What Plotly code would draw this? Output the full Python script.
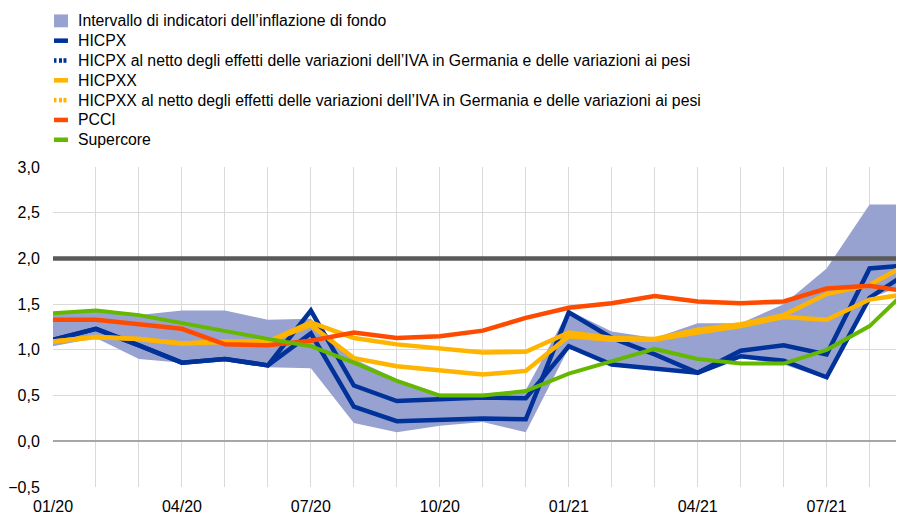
import plotly.graph_objects as go

# ---------------- DATA ----------------
months = ["01/20", "02/20", "03/20", "04/20", "05/20", "06/20", "07/20", "08/20", "09/20",
          "10/20", "11/20", "12/20", "01/21", "02/21", "03/21", "04/21", "05/21", "06/21",
          "07/21", "08/21", "09/21"]
tick_labels = ["01/20", "04/20", "07/20", "10/20", "01/21", "04/21", "07/21"]

band_upper = [1.40, 1.42, 1.38, 1.43, 1.43, 1.33, 1.34, 0.90, 0.68, 0.52, 0.52, 0.56,
              1.43, 1.20, 1.13, 1.29, 1.29, 1.50, 1.89, 2.59, 2.59]
band_lower = [1.04, 1.13, 0.90, 0.86, 0.90, 0.81, 0.80, 0.20, 0.10, 0.17, 0.21, 0.10,
              1.02, 0.82, 0.78, 0.73, 0.91, 0.84, 0.68, 1.56, 1.75]
hicpx = [1.11, 1.23, 1.05, 0.86, 0.90, 0.83, 1.18, 0.38, 0.22, 0.23, 0.25, 0.24,
         1.41, 1.13, 0.95, 0.75, 0.93, 0.88, 0.70, 1.57, 1.88]
hicpx_adj = [1.11, 1.23, 1.05, 0.86, 0.90, 0.83, 1.43, 0.61, 0.44, 0.46, 0.48, 0.47,
             1.04, 0.84, 0.79, 0.75, 0.99, 1.05, 0.95, 1.89, 1.93]
hicpxx = [1.09, 1.14, 1.12, 1.07, 1.09, 1.09, 1.27, 0.91, 0.82, 0.78, 0.73, 0.77,
          1.15, 1.11, 1.11, 1.19, 1.26, 1.36, 1.33, 1.55, 1.62]
hicpxx_adj = [1.09, 1.14, 1.12, 1.07, 1.09, 1.09, 1.30, 1.13, 1.06, 1.01, 0.97, 0.98,
              1.19, 1.13, 1.12, 1.22, 1.28, 1.38, 1.61, 1.71, 1.97]
pcci = [1.33, 1.33, 1.28, 1.23, 1.06, 1.05, 1.10, 1.19, 1.13, 1.15, 1.21, 1.35,
        1.46, 1.51, 1.59, 1.53, 1.51, 1.53, 1.67, 1.70, 1.63]
supercore = [1.40, 1.43, 1.38, 1.29, 1.20, 1.12, 1.04, 0.86, 0.66, 0.50, 0.50, 0.55,
             0.74, 0.88, 1.01, 0.90, 0.85, 0.85, 1.00, 1.26, 1.71]
target = 2.0

legend_names = [
    "Intervallo di indicatori dell\u2019inflazione di fondo",
    "HICPX",
    "HICPX al netto degli effetti delle variazioni dell\u2019IVA in Germania e delle variazioni ai pesi",
    "HICPXX",
    "HICPXX al netto degli effetti delle variazioni dell\u2019IVA in Germania e delle variazioni ai pesi",
    "PCCI",
    "Supercore",
]

# ---------------- STYLE ----------------
# The page body has an 8px margin, so the figure is sized to fit the 904x515 window.
OFF = 8
W, H = 896, 507
ML, MR, MT, MB = 43, 0, 159, 25
FONT = "Liberation Sans, Arial, sans-serif"
C_BAND = "#98a2d0"
C_BLUE = "#003299"
C_YELLOW = "#ffb400"
C_RED = "#ff4b00"
C_GREEN = "#65b800"
C_TARGET = "#595959"
C_GRID = "#d9d9d9"

x = list(range(len(months)))
tickvals = [months.index(t) for t in tick_labels]

fig = go.Figure()
fig.add_trace(go.Scatter(x=x, y=band_lower, mode="lines", line=dict(width=0),
                         showlegend=False, hoverinfo="skip"))
fig.add_trace(go.Scatter(x=x, y=band_upper, mode="lines", line=dict(width=0),
                         fill="tonexty", fillcolor=C_BAND, showlegend=False,
                         name=legend_names[0]))
fig.add_trace(go.Scatter(x=[x[0] - 1, x[-1] + 1], y=[target, target], mode="lines",
                         line=dict(color=C_TARGET, width=4.5), showlegend=False,
                         hoverinfo="skip"))
series = [
    (hicpx, C_BLUE, 4.5, legend_names[1]),
    (hicpx_adj, C_BLUE, 4.5, legend_names[2]),
    (hicpxx, C_YELLOW, 4.5, legend_names[3]),
    (hicpxx_adj, C_YELLOW, 4.5, legend_names[4]),
    (pcci, C_RED, 4.5, legend_names[5]),
    (supercore, C_GREEN, 4, legend_names[6]),
]
for ys, col, w, nm in series:
    fig.add_trace(go.Scatter(x=x, y=ys, mode="lines", name=nm,
                             line=dict(color=col, width=w), showlegend=False))

# ---------------- manual legend ----------------
pw = W - ML - MR
ph = H - MT - MB


def px_x(px):
    return (px - OFF - ML) / pw


def px_y(py):
    return (H - MB - (py - OFF)) / ph


shapes = []
annotations = []
row0, rstep = 19.5, 20
sym_x0, sym_x1, text_x = 52, 66, 74
legend_syms = [("box", C_BAND), ("line", C_BLUE), ("dash", C_BLUE), ("line", C_YELLOW),
               ("dash", C_YELLOW), ("line", C_RED), ("line", C_GREEN)]
for i, (kind, col) in enumerate(legend_syms):
    cy = row0 + i * rstep
    if kind == "box":
        segs = [(sym_x0, sym_x1, cy - 6.5, cy + 6.5)]
    elif kind == "line":
        segs = [(sym_x0, sym_x1, cy - 2.3, cy + 2.3)]
    else:
        segs = [(sym_x0, sym_x0 + 2.5, cy - 2.3, cy + 2.3),
                (sym_x0 + 5, sym_x0 + 8, cy - 2.3, cy + 2.3),
                (sym_x0 + 9.5, sym_x1 - 1.5, cy - 2.3, cy + 2.3)]
    for a, b, c, d in segs:
        shapes.append(dict(type="rect", xref="paper", yref="paper",
                           x0=px_x(a), x1=px_x(b), y0=px_y(d), y1=px_y(c),
                           fillcolor=col, line=dict(width=0), layer="above"))
    annotations.append(dict(xref="paper", yref="paper", x=px_x(text_x), y=px_y(cy),
                            xanchor="left", yanchor="middle", showarrow=False,
                            text=legend_names[i],
                            font=dict(family=FONT, size=15.8, color="#000000")))

fig.update_layout(
    width=W, height=H,
    margin=dict(l=ML, r=MR, t=MT, b=MB, pad=0),
    paper_bgcolor="white", plot_bgcolor="white",
    separators=",.",
    showlegend=False,
    font=dict(family=FONT, size=16, color="#000000"),
    shapes=shapes, annotations=annotations,
    xaxis=dict(range=[0, pw / 43.08], tickvals=tickvals, ticktext=tick_labels,
               showgrid=True, gridcolor=C_GRID, gridwidth=1.3,
               zeroline=False, showline=False,
               ticks="outside", ticklen=5, tickcolor="rgba(0,0,0,0)",
               minor=dict(dtick=1, tick0=0, showgrid=True, gridcolor=C_GRID, gridwidth=1.3),
               tickfont=dict(family=FONT, size=16, color="#000000")),
    yaxis=dict(range=[-0.5, 3.0], dtick=0.5, tick0=0, tickformat=".1f",
               showgrid=True, gridcolor=C_GRID, gridwidth=1.3,
               zeroline=True, zerolinecolor="#a6a6a6", zerolinewidth=1.5,
               showline=False, ticks="outside", ticklen=9, tickcolor="rgba(0,0,0,0)",
               tickfont=dict(family=FONT, size=16, color="#000000")),
)

fig.write_html("out.html")
